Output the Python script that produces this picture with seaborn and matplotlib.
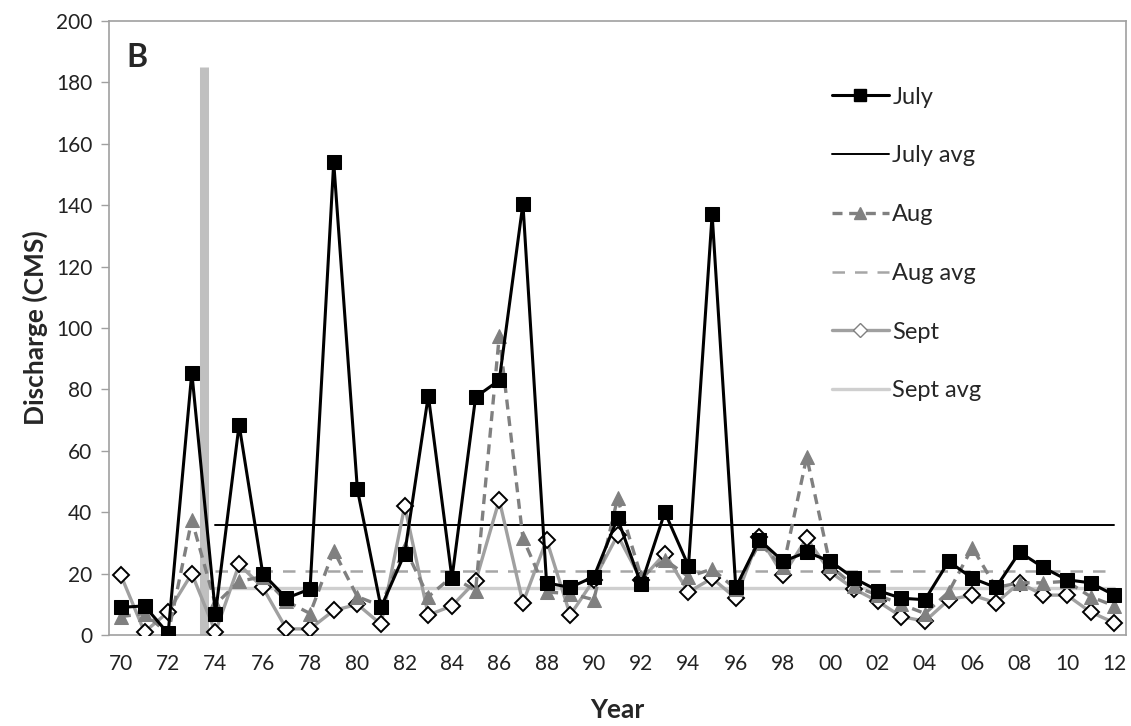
import numpy as np
import matplotlib
matplotlib.use('Agg')
import matplotlib.pyplot as plt
import seaborn as sns
from matplotlib.lines import Line2D

# Abfluss (CMS) je Jahr 1970-2012
years = list(range(1970, 2013))
july = [9, 9.5, 0.5, 85.5, 7, 68.5, 20, 12, 15, 154,
        47.5, 9, 26.5, 78, 18.5, 77.5, 83, 140.5, 17, 15.5,
        19, 38, 16.5, 40, 22.5, 137, 15.5, 31, 24, 27,
        24, 18.5, 14.5, 12, 11.5, 24, 18.5, 15.5, 27, 22,
        18, 17, 13]
aug = [6, 7, 0.5, 37.5, 10, 17.5, 19, 11, 7, 27.5,
       12.5, 9.5, 28.5, 12.5, 19, 14.5, 97.5, 31.5, 14, 13.5,
       11.5, 44.5, 19, 24.5, 19, 21.5, 15, 30, 22, 58,
       22.5, 16, 13, 10, 7, 14, 28.5, 15.5, 17, 17,
       17.5, 12.5, 9.5]
sept = [19.5, 1, 7.5, 20, 1, 23, 15.5, 2, 2, 8,
        10, 3.5, 42, 6.5, 9.5, 17.5, 44, 10.5, 31, 6.5,
        18, 32.5, 18, 26.5, 14, 18.5, 12, 32, 19.5, 31.5,
        20.5, 15, 11, 6, 4.5, 11.5, 13, 10.5, 17, 13,
        13, 7.5, 4]

# Mittelwerte ab 1974
avg_start = 1974
july_avg = 35.8
aug_avg = 20.9
sept_avg = 15.3

# Markierung zwischen 1973 und 1974
marker_year = 1973.5
marker_top = 185

tick_labels = [f"{y % 100:02d}" for y in years]

sns.set_style('white')
plt.rcParams['font.family'] = ['Lato', 'DejaVu Sans']

pos = np.arange(len(years))
i0 = years.index(avg_start)
avg_pos = pos[i0:]

fig = plt.figure(figsize=(11.31, 7.26), dpi=100)
ax = fig.add_axes([0.0964, 0.1253, 0.8992, 0.8457])

# Vertikaler Balken
bar_x = (marker_year - years[0])
ax.vlines(bar_x, 0, marker_top, color='#c0c0c0', linewidth=6.5, zorder=1)

# Mittelwertlinien
sns.lineplot(x=avg_pos, y=[july_avg] * len(avg_pos), color='black', linewidth=1.4, ax=ax, zorder=2)
sns.lineplot(x=avg_pos, y=[aug_avg] * len(avg_pos), color='#a6a6a6', linewidth=1.8,
             linestyle=(0, (5, 4)), ax=ax, zorder=2)
sns.lineplot(x=avg_pos, y=[sept_avg] * len(avg_pos), color='#cfcfcf', linewidth=2.4, ax=ax, zorder=2)

# Monatsreihen
sns.lineplot(x=pos, y=sept, color='#a0a0a0', linewidth=2.4, marker='D', markersize=8.5,
             markerfacecolor='white', markeredgecolor='black', markeredgewidth=1.4, ax=ax, zorder=3)
sns.lineplot(x=pos, y=aug, color='#808080', linewidth=2.4, linestyle=(0, (3, 2)), marker='^',
             markersize=10.5, markerfacecolor='#808080', markeredgecolor='#808080', ax=ax, zorder=4)
sns.lineplot(x=pos, y=july, color='black', linewidth=2.2, marker='s', markersize=10.5,
             markerfacecolor='black', markeredgecolor='black', ax=ax, zorder=5)

ax.set_xlim(-0.5, len(years) - 0.5)
ax.set_ylim(0, 200)
ax.set_yticks(range(0, 201, 20))

ax.set_xticks(pos[::2])
ax.set_xticklabels(tick_labels[::2])
ax.set_xticks(np.arange(-0.5, len(years), 1), minor=True)
ax.tick_params(axis='x', which='major', length=0, pad=14, labelsize=15, colors='#222222')
ax.tick_params(axis='x', which='minor', length=6, width=1, color='#a0a0a0', direction='out')
ax.tick_params(axis='y', length=6, width=1, color='#a0a0a0', direction='out', left=True,
               labelsize=15, pad=6)
ax.tick_params(axis='y', colors='#a0a0a0', labelcolor='#222222')

for s in ax.spines.values():
    s.set_color('#a0a0a0')
    s.set_linewidth(1.2)

ax.set_xlabel('Year', fontsize=19, fontweight='bold', labelpad=17)
ax.set_ylabel('Discharge (CMS)', fontsize=19, fontweight='bold', labelpad=6)

ax.text(0.017, 0.94, 'B', transform=ax.transAxes, fontsize=23, fontweight='bold',
        va='center', ha='left')

handles = [
    Line2D([], [], color='black', linewidth=2.2, marker='s', markersize=8),
    Line2D([], [], color='black', linewidth=1.4),
    Line2D([], [], color='#808080', linewidth=2.4, linestyle=(0, (3, 2)), marker='^', markersize=9),
    Line2D([], [], color='#a6a6a6', linewidth=1.8, linestyle=(0, (5, 4))),
    Line2D([], [], color='#a0a0a0', linewidth=2.4, marker='D', markersize=7,
           markerfacecolor='white', markeredgecolor='#808080'),
    Line2D([], [], color='#cfcfcf', linewidth=2.4),
]
labels = ['July', 'July avg', 'Aug', 'Aug avg', 'Sept', 'Sept avg']
ax.legend(handles, labels, loc='upper left', bbox_to_anchor=(0.69, 0.928), frameon=False,
          fontsize=17, handlelength=2.4, handletextpad=0.15, labelspacing=1.6)

fig.savefig('out.png', dpi=100)
